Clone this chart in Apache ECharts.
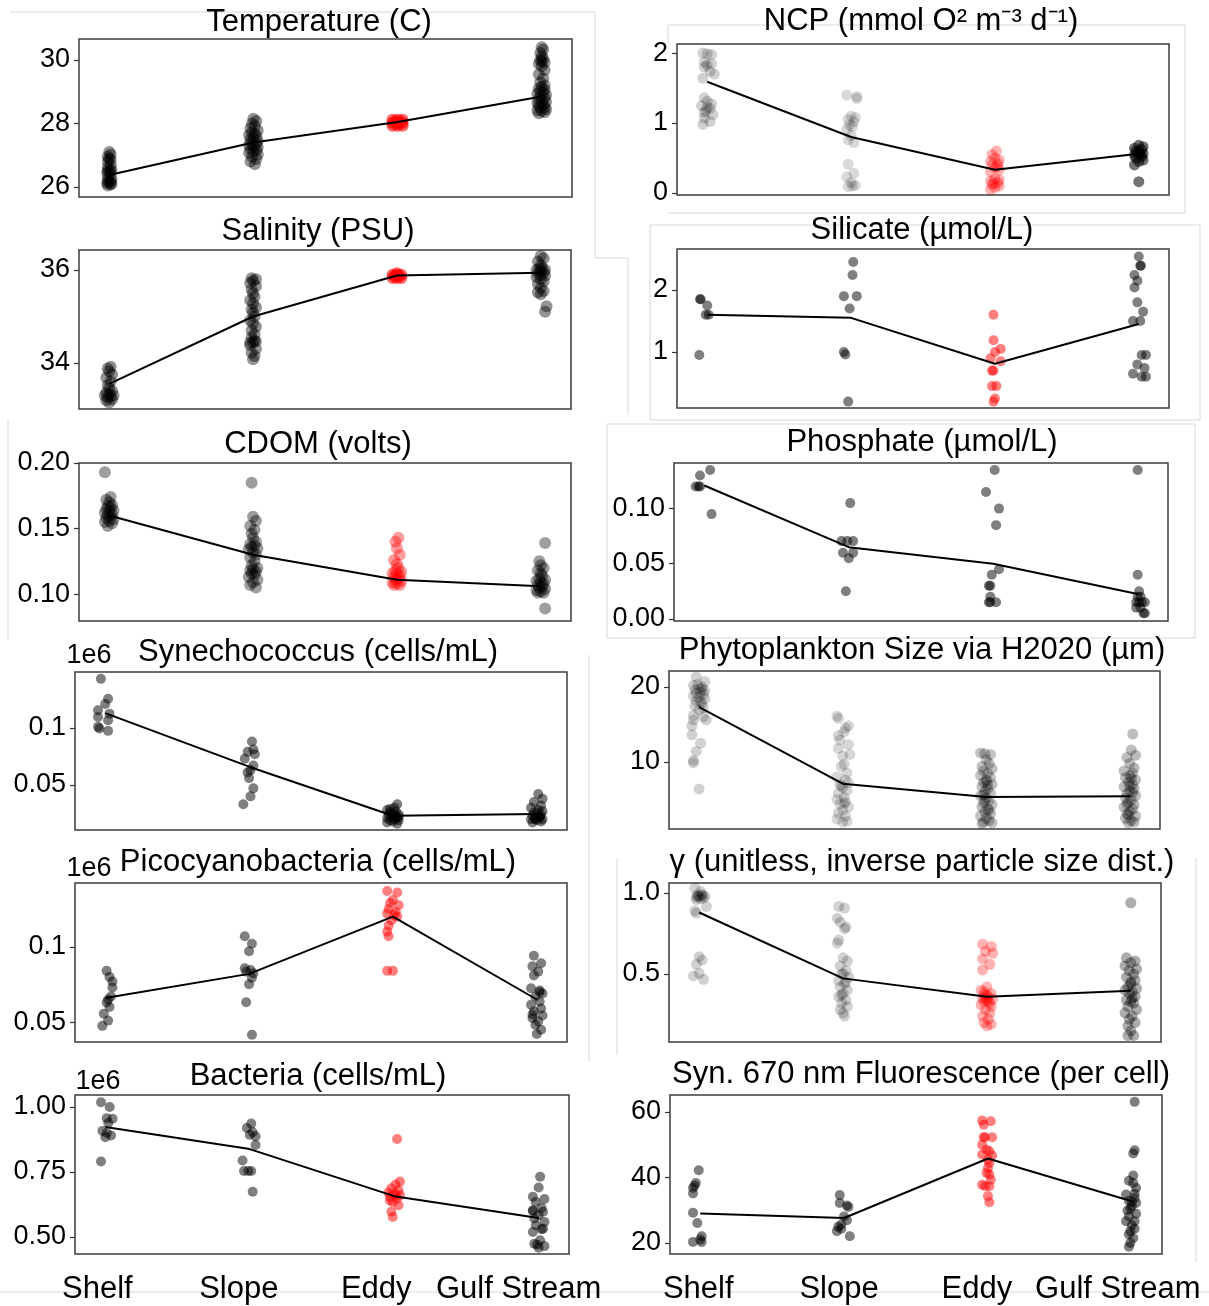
<!DOCTYPE html>
<html><head><meta charset="utf-8">
<script src="https://cdn.jsdelivr.net/npm/echarts@6/dist/echarts.min.js"></script>
<style>html,body{margin:0;padding:0;background:#fff}#c{width:1209px;height:1306px}</style>
</head><body><div id="c"></div>
<script>
const CATS = ['Shelf', 'Slope', 'Eddy', 'Gulf Stream'];

// ---- Temperature (C) ---- [jitter, value]
const tempShelf = [[-.01,26.05],[.01,26.08],[.015,26.1],[-.015,26.12],[0,26.15],[.01,26.18],[-.01,26.2],[.015,26.25],[-.01,26.3],[.01,26.4],[-.015,26.45],[0,26.48],[.01,26.5],[-.01,26.52],[.015,26.55],[-.01,26.62],[.01,26.7],[-.01,26.8],[.01,26.86],[0,26.9],[-.01,26.95],[.01,27.02],[0,27.1]];
const tempSlope = [[.01,26.72],[-.02,26.8],[.02,26.88],[-.01,26.95],[.03,27.02],[-.03,27.08],[0,27.12],[.02,27.16],[-.02,27.2],[.03,27.24],[0,27.28],[-.03,27.32],[.02,27.36],[-.01,27.4],[.03,27.45],[-.02,27.5],[0,27.55],[.02,27.6],[-.03,27.64],[.01,27.68],[-.01,27.72],[.03,27.78],[-.02,27.85],[.01,27.92],[-.01,28.0],[.02,28.08],[0,28.15]];
const tempEddy = [[-.035,27.93],[0,27.93],[.035,27.93],[-.035,28.02],[0,28.02],[.035,28.02],[-.035,28.12],[0,28.12],[.035,28.12],[-.015,28.06],[.015,28.06],[0,27.98]];
const tempGulf = [[-.02,28.32],[.02,28.35],[0,28.4],[-.03,28.42],[.03,28.45],[-.01,28.5],[.02,28.52],[-.02,28.56],[.01,28.6],[-.03,28.65],[.03,28.68],[0,28.72],[-.02,28.76],[.02,28.8],[-.01,28.85],[.03,28.9],[-.03,28.94],[.01,28.98],[-.01,29.02],[.02,29.06],[-.02,29.1],[0,29.15],[.02,29.2],[-.01,29.3],[.01,29.42],[-.02,29.55],[.02,29.68],[0,29.8],[-.02,29.88],[.02,29.92],[0,29.96],[-.01,30.0],[.01,30.04],[0,30.12],[-.01,30.22],[.01,30.32],[0,30.4]];
const tempMean = [26.38, 27.4, 28.05, 28.85];

// ---- Salinity (PSU) ----
const salShelf = [[0,33.15],[-.02,33.2],[.02,33.22],[-.01,33.26],[.01,33.28],[-.03,33.3],[.03,33.3],[0,33.33],[-.02,33.36],[.02,33.4],[0,33.45],[-.01,33.52],[.01,33.6],[-.02,33.68],[.02,33.75],[0,33.82],[-.01,33.88],[.01,33.92]];
const salSlope = [[0,34.08],[.01,34.15],[-.01,34.22],[.02,34.3],[-.02,34.38],[-.02,34.44],[0,34.45],[.02,34.46],[.01,34.48],[-.01,34.55],[.01,34.62],[-.01,34.7],[.02,34.78],[0,34.85],[-.02,34.92],[.01,35.0],[0,35.08],[-.01,35.15],[.02,35.2],[0,35.28],[-.02,35.35],[.01,35.42],[0,35.5],[-.01,35.58],[.02,35.65],[-.02,35.72],[0,35.77],[.02,35.8],[-.01,35.82]];
const salEddy = [[-.03,35.83],[0,35.83],[.03,35.83],[-.03,35.9],[0,35.9],[.03,35.9],[-.015,35.87],[.015,35.87],[0,35.93]];
const salGulf = [[.03,35.1],[.04,35.22],[0,35.48],[-.02,35.52],[.02,35.55],[0,35.62],[-.02,35.7],[.02,35.75],[0,35.8],[-.03,35.85],[.03,35.88],[0,35.9],[-.02,35.93],[.02,35.95],[0,35.97],[-.03,36.0],[.03,36.0],[-.01,36.03],[.01,36.05],[0,36.1],[-.02,36.18],[.02,36.25],[0,36.3]];
const salMean = [33.55, 35.0, 35.88, 35.94];

// ---- CDOM (volts) ----
const cdomShelf = [[-.01,.152],[.02,.154],[-.03,.155],[0,.156],[.03,.157],[-.02,.158],[.01,.159],[-.01,.16],[.02,.161],[-.03,.162],[0,.163],[.03,.164],[-.02,.165],[.01,.166],[-.01,.167],[.02,.168],[0,.17],[-.02,.172],[.01,.174],[-.03,.193]];
const cdomSlope = [[.02,.105],[-.02,.107],[0,.109],[.03,.111],[-.03,.113],[.01,.115],[-.01,.116],[.02,.117],[-.02,.118],[0,.119],[.03,.12],[-.01,.122],[.01,.125],[-.02,.128],[.02,.13],[0,.132],[-.03,.134],[.03,.135],[-.01,.136],[.01,.137],[-.02,.138],[.02,.14],[0,.143],[-.01,.146],[.01,.149],[-.02,.152],[.02,.156],[0,.159],[-.01,.185]];
const cdomEddy = [[-.02,.107],[.02,.107],[0,.108],[-.03,.109],[.03,.11],[-.01,.111],[.01,.112],[-.02,.113],[.02,.114],[0,.115],[-.03,.116],[.03,.117],[-.01,.118],[.01,.12],[0,.123],[-.02,.126],[.02,.13],[0,.135],[-.01,.14],[.01,.143]];
const cdomGulf = [[.03,.089],[-.02,.101],[.02,.101],[0,.102],[-.03,.103],[.03,.104],[-.01,.105],[.01,.106],[-.02,.107],[.02,.108],[0,.109],[-.03,.11],[.03,.111],[-.01,.112],[.01,.114],[0,.116],[-.02,.118],[.02,.12],[0,.122],[-.01,.125],[.03,.139]];
const cdomMean = [0.160, 0.130, 0.111, 0.106];

// ---- Synechococcus (cells/mL, 1e6) ----
const synShelf = [[-.03,.143],[.02,.1256],[0,.121],[-.05,.1154],[.03,.1125],[-.05,.1096],[.02,.1067],[-.05,.1009],[-.04,.0994],[.02,.0974]];
const synSlope = [[.02,.088],[.03,.081],[-.01,.079],[.04,.077],[-.03,.073],[.03,.067],[.01,.063],[-.01,.061],[0,.056],[.03,.047],[.01,.040],[-.04,.033]];
const synEddy = [[-.04,.017],[.03,.016],[0,.018],[-.02,.019],[.04,.019],[.01,.02],[-.04,.021],[.03,.021],[-.01,.022],[.02,.023],[-.03,.024],[.04,.024],[0,.025],[-.02,.026],[.02,.027],[-.04,.028],[.01,.03],[.03,.033],[-.02,.029],[.04,.022]];
const synGulf = [[-.03,.017],[.03,.018],[0,.019],[-.04,.02],[.04,.02],[-.01,.021],[.02,.022],[-.03,.023],[.03,.024],[0,.025],[-.02,.026],[.04,.027],[.01,.028],[-.04,.03],[.03,.032],[-.02,.035],[.04,.038],[.01,.042],[-.01,.02],[.02,.022]];
const synMean = [0.113, 0.066, 0.023, 0.0245];

// ---- Picocyanobacteria (cells/mL, 1e6) ----
const picoShelf = [[.01,.084],[.03,.08],[.05,.077],[.05,.073],[.04,.067],[.02,.065],[.01,.063],[.03,.06],[-.01,.0555],[.02,.051],[-.02,.0475]];
const picoSlope = [[-.03,.107],[.02,.102],[0,.097],[-.03,.0857],[.01,.0846],[-.02,.0835],[.03,.0824],[.02,.0795],[0,.0751],[-.02,.0632],[.02,.0416]];
const picoEddy = [[-.04,.137],[.03,.136],[0,.131],[-.02,.129],[.04,.1275],[-.03,.125],[.02,.123],[-.04,.122],[.01,.121],[.03,.12],[-.01,.1176],[-.03,.114],[-.04,.11],[-.03,.107],[-.04,.084],[0,.084]];
const picoGulf = [[-.02,.094],[.03,.089],[-.03,.087],[.01,.0835],[-.02,.081],[-.04,.0725],[.02,.071],[.04,.069],[-.01,.067],[.02,.0637],[-.04,.0615],[.03,.059],[-.02,.057],[.04,.0544],[-.03,.0527],[.01,.0505],[-.01,.0483],[.03,.045],[0,.0421],[.02,.07],[-.03,.055]];
const picoMean = [0.066, 0.082, 0.120, 0.065];

// ---- Bacteria (cells/mL, 1e6) ----
const bactShelf = [[-.03,1.018],[.03,1.0],[.01,.957],[.05,.955],[.02,.938],[-.02,.908],[.01,.9],[.04,.89],[0,.884],[-.03,.79]];
const bactSlope = [[.01,.936],[-.02,.919],[.02,.903],[0,.893],[.04,.887],[.04,.854],[-.05,.794],[-.04,.754],[-.01,.754],[.01,.754],[.02,.674]];
const bactEddy = [[.02,.877],[.04,.713],[.01,.702],[-.02,.687],[.03,.68],[-.04,.671],[0,.667],[.04,.661],[-.03,.655],[.02,.648],[-.01,.635],[.03,.622],[-.02,.597],[-.01,.577],[.01,.66],[-.03,.64]];
const bactGulf = [[.01,.732],[0,.69],[-.04,.655],[.04,.646],[-.02,.635],[.02,.612],[-.04,.603],[.03,.597],[0,.584],[-.03,.571],[.04,.558],[-.02,.545],[.03,.532],[-.04,.519],[.01,.487],[-.03,.474],[.04,.465],[0,.459],[-.04,.6],[.02,.53],[-.01,.47]];
const bactMean = [0.923, 0.838, 0.657, 0.573];

// ---- NCP ----
const ncpShelf = [[-.03,2.0],[0,1.99],[.03,1.98],[-.02,1.87],[.03,1.85],[0,1.83],[-.02,1.8],[.02,1.74],[.05,1.7],[-.03,1.64],[-.02,1.36],[0,1.31],[.03,1.27],[-.04,1.25],[.02,1.21],[-.01,1.17],[.04,1.12],[-.02,1.07],[.02,1.02],[-.03,.98],[0,1.22],[-.02,1.15]];
const ncpSlope = [[-.03,1.4],[.04,1.35],[.04,1.38],[0,1.1],[.03,1.08],[-.02,1.05],[.02,1.02],[-.01,.97],[.01,.95],[-.03,.91],[0,.82],[-.02,.76],[.02,.72],[-.02,.41],[.02,.28],[-.03,.23],[0,.15],[.03,.11],[-.02,.09],[.01,.1]];
const ncpEddy = [[-.03,.05],[0,.08],[.03,.1],[-.02,.12],[.02,.15],[-.03,.17],[.03,.19],[0,.2],[-.03,.3],[.03,.33],[0,.36],[-.02,.4],[.02,.42],[-.03,.45],[.03,.47],[0,.5],[-.02,.55],[.01,.6],[.02,.38],[-.01,.14]];
const ncpGulf = [[-.03,.4],[0,.45],[.03,.47],[-.02,.5],[.02,.52],[-.03,.54],[.03,.56],[0,.58],[-.02,.6],[.02,.62],[-.03,.64],[.03,.66],[0,.68],[.01,.55],[-.01,.57],[0,.16]];
const ncpMean = [1.59, 0.80, 0.33, 0.56];

// ---- Silicate ----
const siliShelf = [[-.05,1.85],[-.045,1.85],[0,1.75],[-.01,1.6],[.01,1.6],[-.055,.95]];
const siliSlope = [[.015,2.45],[.01,2.24],[-.05,1.9],[.04,1.9],[-.01,1.7],[-.05,1.0],[-.04,.96],[-.02,.2]];
const siliEddy = [[-.01,1.6],[-.01,1.19],[.04,1.05],[0,1.0],[-.03,.9],[.04,.85],[-.02,.7],[-.01,.7],[-.02,.45],[.01,.45],[0,.25],[-.01,.2]];
const siliGulf = [[0,2.54],[.01,2.39],[.015,2.39],[-.03,2.24],[-.01,2.15],[-.03,2.04],[-.01,1.8],[.03,1.65],[-.04,1.5],[.01,1.5],[.02,.95],[.05,.95],[-.01,.8],[.04,.74],[-.04,.65],[.02,.6],[.05,.6]];
const siliMean = [1.6, 1.55, 0.81, 1.45];

// ---- Phosphate ----
const phosShelf = [[.04,.135],[-.03,.13],[-.06,.12],[-.03,.12],[-.04,.12],[.05,.095]];
const phosSlope = [[.01,.105],[-.05,.0705],[-.01,.0705],[.03,.0705],[-.04,.06],[.03,.06],[0,.055],[-.02,.025]];
const phosEddy = [[.01,.135],[-.05,.115],[.04,.1],[.02,.085],[.04,.045],[-.01,.04],[-.03,.03],[-.02,.03],[-.02,.02],[-.03,.015],[-.02,.015],[.02,.015]];
const phosGulf = [[0,.135],[0,.04],[.01,.025],[-.01,.015],[.01,.015],[.03,.015],[.05,.015],[-.01,.01],[.02,.01],[.04,.005],[.05,.005],[0,.02],[.02,.02]];
const phosMean = [0.121, 0.065, 0.05, 0.0225];

// ---- Phytoplankton size ----
const phytoShelf = [[-.02,21.3],[.04,20.7],[-.04,20.2],[.02,20.0],[0,19.8],[-.03,19.6],[.04,19.5],[.01,19.3],[-.02,19.1],[.03,19.0],[-.04,18.8],[0,18.6],[.04,18.4],[-.02,18.1],[.02,17.8],[-.03,17.5],[.03,17.2],[0,16.9],[-.04,16.2],[.03,16.0],[.05,15.6],[-.04,15.6],[-.05,14.8],[-.05,13.6],[.01,12.5],[-.02,11.4],[-.04,10.2],[-.04,9.9],[0,6.4],[.02,19.7],[-.01,20.3],[.01,18.0]];
const phytoSlope = [[-.04,16.1],[-.03,15.8],[.04,14.8],[.02,14.5],[.01,14.0],[-.03,13.5],[-.02,12.9],[.04,12.3],[-.03,11.8],[.05,11.0],[0,10.8],[.01,9.7],[-.01,9.4],[.03,8.5],[-.04,8.0],[.02,7.6],[.04,7.2],[-.02,7.0],[0,6.6],[.03,6.2],[-.03,5.8],[.01,5.3],[-.04,5.0],[.02,4.7],[-.02,4.4],[.04,4.0],[0,3.6],[-.03,3.2],[.02,2.8],[-.04,2.4],[.03,2.1],[0,2.0],[.01,4.5],[-.01,6.8]];
const phytoEddy = [[-.04,11.2],[-.01,11.1],[.03,11.0],[0,10.3],[.02,9.8],[-.03,9.4],[.04,9.1],[-.02,8.8],[.01,8.5],[-.04,8.2],[.03,7.9],[0,7.6],[-.02,7.3],[.04,7.0],[-.03,6.7],[.01,6.4],[-.01,6.1],[.03,5.8],[-.04,5.5],[0,5.2],[.02,4.9],[-.02,4.6],[.04,4.3],[-.03,4.0],[.01,3.7],[-.01,3.4],[.03,3.1],[-.04,2.8],[0,2.5],[.02,2.2],[-.02,2.0],[.04,1.9],[-.03,1.8],[.01,6.9],[-.01,4.8],[.02,3.6],[0,7.4],[-.02,5.6]];
const phytoGulf = [[.02,13.7],[.01,11.6],[.04,10.9],[-.02,10.6],[0,9.8],[.03,9.2],[-.04,8.8],[.02,8.5],[0,8.2],[-.03,7.9],[.04,7.6],[-.01,7.3],[.02,7.0],[-.04,6.7],[.03,6.4],[0,6.1],[-.02,5.8],[.04,5.5],[-.03,5.2],[.01,4.9],[-.01,4.6],[.03,4.3],[-.04,4.0],[.02,3.7],[0,3.4],[-.02,3.1],[.04,2.8],[-.03,2.5],[.01,2.2],[.03,2.0],[-.01,1.9],[0,6.8],[-.02,4.4],[.02,5.9],[-.01,3.0],[.01,7.8]];
const phytoMean = [17.3, 7.1, 5.33, 5.42];

// ---- gamma ----
const gammaShelf = [[-.03,1.03],[.01,1.01],[-.01,.99],[.02,.985],[0,.98],[-.02,.975],[.03,.97],[.01,.965],[-.02,.96],[.04,.98],[.05,.917],[-.03,.89],[-.02,.876],[0,.607],[.02,.587],[-.02,.56],[0,.504],[-.04,.488],[.03,.467],[-.01,.98],[.02,.99]];
const gammaSlope = [[-.03,.917],[.01,.907],[-.04,.845],[-.02,.82],[.02,.79],[.01,.78],[-.03,.71],[-.04,.69],[0,.6],[.03,.58],[-.02,.55],[.02,.52],[-.01,.5],[.04,.48],[-.03,.46],[.01,.44],[-.02,.42],[.03,.4],[0,.38],[-.03,.36],[.02,.34],[-.01,.32],[.03,.3],[-.02,.28],[0,.26],[.01,.24],[.02,.45],[-.01,.37],[0,.5]];
const gammaEddy = [[-.03,.684],[.03,.67],[-.01,.64],[.04,.628],[-.03,.593],[.02,.56],[-.03,.525],[0,.42],[-.04,.4],[.03,.38],[-.02,.37],[.01,.36],[-.03,.35],[.04,.345],[0,.34],[-.02,.33],[.02,.32],[-.04,.31],[.03,.3],[-.01,.28],[.02,.26],[-.03,.24],[.01,.22],[-.02,.2],[.03,.19],[0,.18],[-.01,.35],[.01,.33],[0,.37],[-.02,.39]];
const gammaGulf = [[0,.94],[-.03,.6],[.03,.58],[0,.57],[-.04,.55],[.04,.53],[-.01,.52],[.02,.5],[-.03,.48],[.03,.46],[0,.44],[-.02,.42],[.04,.41],[-.04,.4],[.01,.39],[-.01,.38],[.03,.36],[-.03,.34],[0,.33],[.02,.32],[-.02,.3],[.04,.28],[-.04,.26],[.01,.24],[-.01,.22],[.03,.2],[-.02,.18],[0,.15],[-.02,.12],[.02,.12],[0,.45],[.01,.35]];
const gammaMean = [0.88, 0.473, 0.36, 0.397];

// ---- Syn. 670 nm fluorescence ----
const fluorShelf = [[-.01,42.2],[-.03,38.3],[-.04,37.5],[-.05,36.8],[-.05,35.1],[-.05,29.2],[-.02,26.1],[.01,22.0],[0,21.0],[-.05,20.3],[.01,20.3]];
const fluorSlope = [[-.03,34.6],[-.03,32.2],[.02,31.4],[.03,31.0],[0,28.1],[.02,26.9],[-.02,25.6],[-.04,24.9],[-.02,24.3],[-.05,23.6],[.04,22.0]];
const fluorEddy = [[-.04,57.4],[.02,57.2],[-.03,56.1],[-.03,52.3],[-.02,52.3],[.03,52.3],[-.04,50],[-.01,48.5],[.01,48],[-.04,47],[.03,46.7],[0,45.4],[.01,44.4],[0,42.9],[-.01,41.4],[.01,40.9],[.02,39.3],[-.04,37.8],[.01,37.3],[-.02,37.3],[0,34.3],[.01,32.4]];
const fluorGulf = [[.02,63.1],[.02,48.3],[.01,47.3],[.01,40.6],[-.02,39],[.01,38.3],[.03,36.8],[-.04,34.8],[.02,33.7],[-.02,32.9],[.03,32.2],[0,31.2],[-.03,29.9],[.03,28.9],[-.02,28.1],[.02,26.6],[-.04,26.6],[0,25.4],[.02,24.3],[-.01,23.6],[-.02,22.6],[.01,21.5],[-.01,20],[-.02,18.8],[0,32.5],[-.01,30.5],[.02,35]];
const fluorMean = [29.0, 27.6, 45.8, 32.7];

// ---- tick values / labels ----
const tempTicks = [26, 28, 30];           const tempTickLabels = ['26', '28', '30'];
const salTicks = [34, 36];                const salTickLabels = ['34', '36'];
const cdomTicks = [0.10, 0.15, 0.20];     const cdomTickLabels = ['0.10', '0.15', '0.20'];
const synTicks = [0.05, 0.1];             const synTickLabels = ['0.05', '0.1'];
const picoTicks = [0.05, 0.1];            const picoTickLabels = ['0.05', '0.1'];
const bactTicks = [0.5, 0.75, 1.0];       const bactTickLabels = ['0.50', '0.75', '1.00'];
const ncpTicks = [0, 1, 2];               const ncpTickLabels = ['0', '1', '2'];
const siliTicks = [1, 2];                 const siliTickLabels = ['1', '2'];
const phosTicks = [0, 0.05, 0.10];        const phosTickLabels = ['0.00', '0.05', '0.10'];
const phytoTicks = [10, 20];              const phytoTickLabels = ['10', '20'];
const gammaTicks = [0.5, 1.0];            const gammaTickLabels = ['0.5', '1.0'];
const fluorTicks = [20, 40, 60];          const fluorTickLabels = ['20', '40', '60'];

const FONT = '"Liberation Sans", Arial, sans-serif';

const panels = [
  {title:'Temperature (C)', tx:319, ty:22, box:[79,39,493,158], yr:[25.685,30.66], ticks:tempTicks, labels:tempTickLabels, groups:[tempShelf,tempSlope,tempEddy,tempGulf], mean:tempMean, alpha:[.42,.42,.6,.42], red:true, size:12},
  {title:'Salinity (PSU)', tx:318, ty:231, box:[79,250,492,159], yr:[33.01,36.43], ticks:salTicks, labels:salTickLabels, groups:[salShelf,salSlope,salEddy,salGulf], mean:salMean, alpha:[.42,.42,.6,.42], red:true, size:12},
  {title:'CDOM (volts)', tx:318, ty:444, box:[79,463,492,158], yr:[0.0795,0.2], ticks:cdomTicks, labels:cdomTickLabels, groups:[cdomShelf,cdomSlope,cdomEddy,cdomGulf], mean:cdomMean, alpha:[.38,.38,.38,.38], red:true, size:12},
  {title:'Synechococcus (cells/mL)', tx:318, ty:652, box:[75,672,492,158], yr:[0.0105,0.149], ticks:synTicks, labels:synTickLabels, groups:[synShelf,synSlope,synEddy,synGulf], mean:synMean, alpha:[.5,.5,.5,.5], red:false, e6:[28,3]},
  {title:'Picocyanobacteria (cells/mL)', tx:318, ty:862, box:[75,883,492,159], yr:[0.0368,0.1423], ticks:picoTicks, labels:picoTickLabels, groups:[picoShelf,picoSlope,picoEddy,picoGulf], mean:picoMean, alpha:[.5,.5,.5,.5], red:true, e6:[28,1]},
  {title:'Bacteria (cells/mL)', tx:318, ty:1076, box:[75,1095,494,159], yr:[0.4346,1.046], ticks:bactTicks, labels:bactTickLabels, groups:[bactShelf,bactSlope,bactEddy,bactGulf], mean:bactMean, alpha:[.5,.5,.5,.5], red:true, e6:[46,0], xl:[16,22,36,40]},
  {title:'NCP (mmol O² m⁻³ d⁻¹)', tx:921, ty:21, box:[677,44,492,151], yr:[-0.03,2.13], ticks:ncpTicks, labels:ncpTickLabels, groups:[ncpShelf,ncpSlope,ncpEddy,ncpGulf], mean:ncpMean, alpha:[.18,.15,.3,.55], red:true, size:11},
  {title:'Silicate (µmol/L)', tx:922, ty:230, box:[677,249,492,159], yr:[0.097,2.66], ticks:siliTicks, labels:siliTickLabels, groups:[siliShelf,siliSlope,siliEddy,siliGulf], mean:siliMean, alpha:[.5,.5,.5,.5], red:true},
  {title:'Phosphate (µmol/L)', tx:922, ty:442, box:[674,463,494,158], yr:[-0.002,0.1414], ticks:phosTicks, labels:phosTickLabels, groups:[phosShelf,phosSlope,phosEddy,phosGulf], mean:phosMean, alpha:[.5,.5,.5,.5], red:false},
  {title:'Phytoplankton Size via H2020 (µm)', tx:922, ty:650, box:[669,671,491,158], yr:[1.07,22.1], ticks:phytoTicks, labels:phytoTickLabels, groups:[phytoShelf,phytoSlope,phytoEddy,phytoGulf], mean:phytoMean, alpha:[.18,.16,.24,.26], red:false, size:11},
  {title:'γ (unitless, inverse particle size dist.)', tx:922, ty:862, box:[669,883,492,159], yr:[0.08,1.062], ticks:gammaTicks, labels:gammaTickLabels, groups:[gammaShelf,gammaSlope,gammaEddy,gammaGulf], mean:gammaMean, alpha:[.18,.18,.3,.32], red:true, size:11},
  {title:'Syn. 670 nm Fluorescence (per cell)', tx:921, ty:1074, box:[670,1095,492,159], yr:[16.6,65.2], ticks:fluorTicks, labels:fluorTickLabels, groups:[fluorShelf,fluorSlope,fluorEddy,fluorGulf], mean:fluorMean, alpha:[.5,.5,.5,.5], red:true, xl:[4,10,22,28]}
];

const titles = [], grids = [], xAxes = [], yAxes = [], series = [];
panels.forEach((p, i) => {
  titles.push({text:p.title, left:p.tx, top:p.ty, textAlign:'center', textVerticalAlign:'middle', padding:0,
    textStyle:{fontSize:31, fontWeight:'normal', color:'#000', fontFamily:FONT}});
  grids.push({left:p.box[0], top:p.box[1], width:p.box[2], height:p.box[3], show:true,
    borderColor:'#3c3c3c', borderWidth:1.5, backgroundColor:'transparent', containLabel:false, outerBoundsMode:'none'});
  const xa = {type:'value', gridIndex:i, min:-0.21, max:3.21, axisLine:{show:false, onZero:false}, axisTick:{show:false},
    splitLine:{show:false}, axisLabel:{show:false}};
  if (p.xl) {
    const rich = {};
    p.xl.forEach((pad, k) => { rich['c'+k] = {fontSize:31, fontFamily:FONT, color:'#000', padding:[0,pad,0,0]}; });
    xa.axisLabel = {show:true, customValues:[0,1,2,3], margin:20, fontSize:31, fontFamily:FONT, color:'#000',
      formatter: v => { const k = Math.round(v); return '{c'+k+'|'+CATS[k]+'}'; }, rich};
  }
  xAxes.push(xa);
  const ya = {type:'value', gridIndex:i, position:'left', min:p.yr[0], max:p.yr[1], splitLine:{show:false},
    axisLine:{show:false, onZero:false},
    axisTick:{show:true, customValues:p.ticks, length:5, lineStyle:{color:'#333', width:1.2}},
    axisLabel:{customValues:p.ticks, margin:9, fontSize:27, fontFamily:FONT, color:'#000',
      formatter: v => { const k = p.ticks.findIndex(t => Math.abs(t - v) < 1e-9); return k >= 0 ? p.labels[k] : ''; }}};
  if (p.e6) {
    ya.name = '1e6'; ya.nameLocation = 'end'; ya.nameGap = p.e6[1];
    ya.nameTextStyle = {fontSize:27, fontFamily:FONT, color:'#000', padding:[0,0,0,p.e6[0]]};
  }
  yAxes.push(ya);
  p.groups.forEach((g, k) => {
    const isRed = p.red && k === 2;
    series.push({type:'scatter', xAxisIndex:i, yAxisIndex:i, symbol:'circle', symbolSize:p.size || 10, z:2,
      itemStyle:{color: isRed ? '#ff0000' : '#000000', opacity:p.alpha[k]},
      emphasis:{disabled:true}, silent:true,
      data: g.map(pt => [k + pt[0], pt[1]])});
  });
  series.push({type:'line', xAxisIndex:i, yAxisIndex:i, symbol:'none', z:5, silent:true,
    lineStyle:{color:'#000', width:2}, data: p.mean.map((v, k) => [k, v])});
});

const frameColor = '#d8d8d8';
const frameLines = [
  [10,12,595,12],[595,12,595,258],[595,258,628,258],[628,258,628,415],
  [668,25,1185,25],[1185,25,1185,213],[668,213,1185,213],[668,25,668,44],
  [650,225,1200,225],[1200,225,1200,420],[650,420,1200,420],[650,225,650,420],
  [607,424,1195,424],[1195,424,1195,638],[607,638,1195,638],[607,424,607,638],
  [8,420,8,640],[589,655,589,1062],[617,858,617,1055],[1196,858,1196,1262],[0,1292,1209,1292]
];
const graphic = frameLines.map(l => ({type:'line', z:-10, silent:true,
  shape:{x1:l[0], y1:l[1], x2:l[2], y2:l[3]}, style:{stroke:frameColor, lineWidth:1}}));

const chart = echarts.init(document.getElementById('c'), null, {renderer:'canvas'});
chart.setOption({animation:false, backgroundColor:'#fff', title:titles, grid:grids, xAxis:xAxes, yAxis:yAxes, series, graphic});
</script>
</body></html>
